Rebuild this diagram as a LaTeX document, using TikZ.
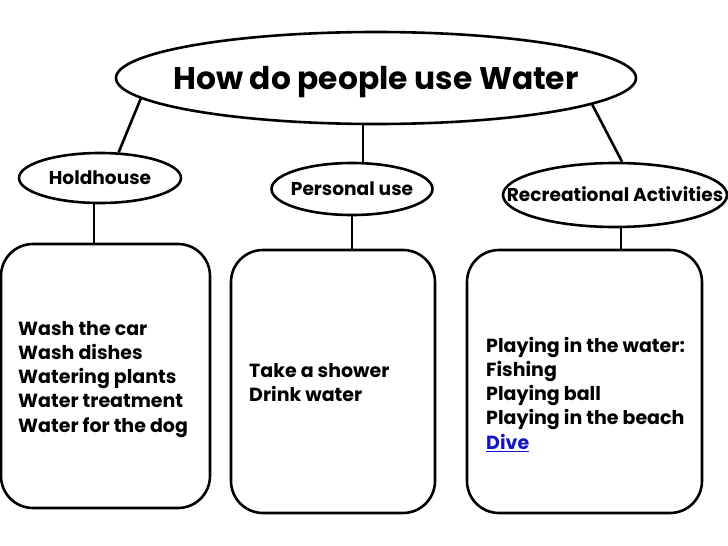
\documentclass[tikz,border=0pt]{standalone}
\usepackage{fontspec}
\setmainfont{Poppins}
\usetikzlibrary{shapes.geometric}
\definecolor{linkblue}{RGB}{20,20,200}
\begin{document}
\begin{tikzpicture}[x=1pt,y=-1pt,
  oval/.style={ellipse, draw, line width=2.6pt, inner sep=0pt, text depth=0pt},
  card/.style={rectangle, draw, line width=2.6pt, rounded corners=32pt, inner sep=0pt},
  link/.style={line width=2.6pt},
  itemtext/.style={anchor=base west, inner sep=0pt, font=\fontsize{19}{24.3}\selectfont\bfseries},
  headfont/.style={font=\fontsize{18.6}{22}\selectfont\bfseries, text height=13pt}]
\useasboundingbox[fill=white] (0,0) rectangle (728,546);
% ellipses
\node[oval, minimum width=520pt, minimum height=92pt, font=\fontsize{31.3}{36}\selectfont\bfseries, text height=22pt] (main) at (376,78) {\makebox[0pt]{How do people use Water}};
\node[oval, headfont, minimum width=162pt, minimum height=50pt] (hold) at (100,178) {\makebox[0pt]{Holdhouse}};
\node[oval, headfont, minimum width=161pt, minimum height=52pt] (pers) at (352,189) {\makebox[0pt]{Personal use}};
\node[oval, headfont, minimum width=224pt, minimum height=64pt] (rec) at (615,195) {\makebox[0pt]{Recreational Activities}};
% boxes
\node[card, minimum width=209pt, minimum height=264pt] (box1) at (105.5,376) {};
\node[card, minimum width=204pt, minimum height=263pt] (box2) at (333,381.5) {};
\node[card, minimum width=235pt, minimum height=263pt] (box3) at (584.5,381.5) {};
% box texts
\node[itemtext] (t1) at (18,335) {\begin{tabular}[t]{@{}l@{}}Wash the car\\Wash dishes\\Watering plants\\Water treatment\\Water for the dog\end{tabular}};
\node[itemtext] (t2) at (249,377) {\begin{tabular}[t]{@{}l@{}}Take a shower\\Drink water\end{tabular}};
\node[itemtext] (t3) at (486,352) {\begin{tabular}[t]{@{}l@{}}Playing in the water:\\Fishing\\Playing ball\\Playing in the beach\\{\color{linkblue}\underline{Dive}}\end{tabular}};
% connectors
\draw[link] (main.185.5) -- (hold.54);
\draw[link] (main.353.6) -- (rec.78);
\draw[link] ([xshift=11pt]pers.north) -- ([xshift=11pt]pers.north |- main.south);
\draw[link] ([xshift=-6pt]hold.south) -- ([xshift=-6pt]hold.south |- box1.north);
\draw[link] (pers.south) -- (pers.south |- box2.north);
\draw[link] ([xshift=6pt]rec.south) -- ([xshift=6pt]rec.south |- box3.north);
\end{tikzpicture}
\end{document}
